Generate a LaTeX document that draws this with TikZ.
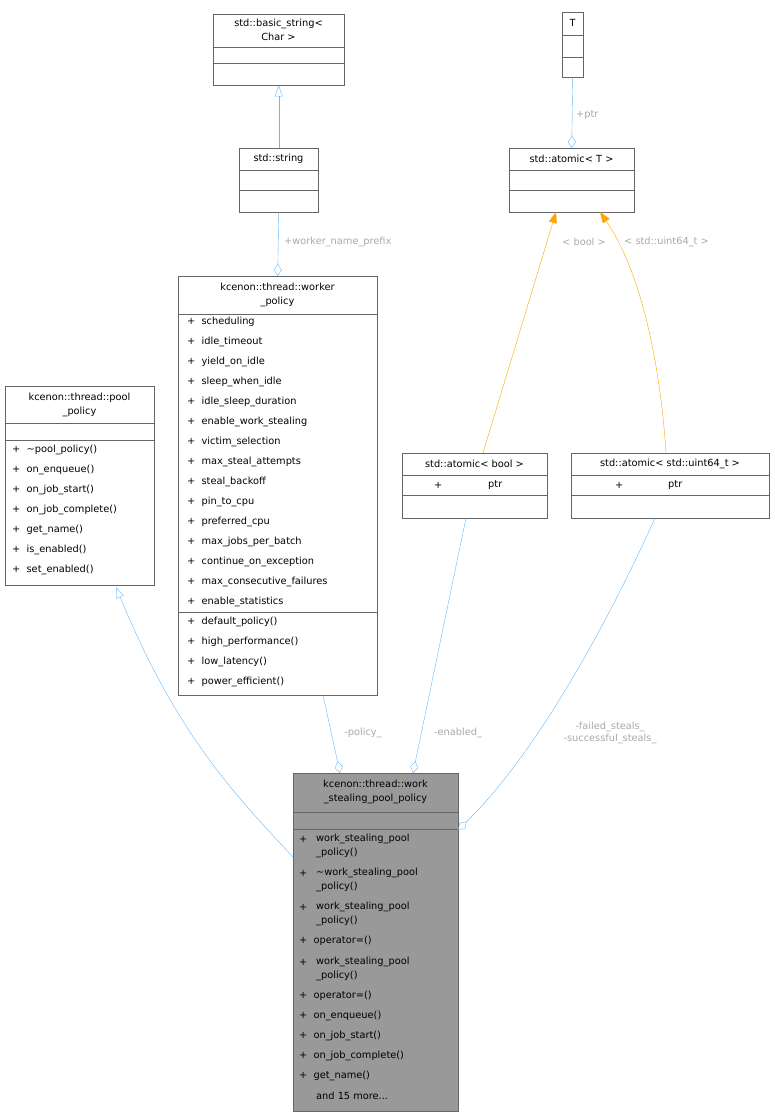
\documentclass[tikz,border=0pt]{standalone}
\usepackage{fontspec}
\setmainfont{DejaVu Sans}
\usetikzlibrary{arrows.meta,positioning}
\definecolor{edgeblue}{HTML}{63B8FF}
\definecolor{edgeorange}{HTML}{FFA500}
\definecolor{lblgray}{HTML}{A8A8A8}
\definecolor{boxline}{HTML}{666666}
\definecolor{wsfill}{HTML}{999999}
\tikzset{
  box/.style={draw=boxline, fill=white, anchor=north west, inner sep=0pt},
  sep/.style={draw=boxline},
  ttl/.style={align=center, inner sep=0pt, font=\fontsize{9.8}{14}\selectfont},
  mem/.style={anchor=west, inner sep=0pt, align=left, font=\fontsize{9.8}{14}\selectfont},
  lbl/.style={text=lblgray, inner sep=0pt, align=center, font=\fontsize{9.8}{11.5}\selectfont},
  inh/.style={draw=edgeblue, -{Triangle[open,length=11,width=8]}},
  agg/.style={draw=edgeblue, -{Diamond[open,length=12,width=8]}},
  tpl/.style={draw=edgeorange, -{Triangle[length=11,width=8]}},
}
\begin{document}
\begin{tikzpicture}[x=1pt,y=-1pt]
  \useasboundingbox (0,0) rectangle (775,1117);

  % classes
  \node[box, minimum width=131, minimum height=71] (bstr) at (213,14) {};
  \node[ttl] at (278.5,30) {std::basic\_string\textless\\Char \textgreater};
  \draw[sep] (213,47) -- (344,47) (213,63) -- (344,63);

  \node[box, minimum width=79, minimum height=64] (str) at (239,148) {};
  \node[ttl] at (278.5,159) {std::string};
  \draw[sep] (239,170) -- (318,170) (239,190) -- (318,190);

  \node[box, minimum width=21, minimum height=65] (T) at (562,12) {};
  \node[ttl] at (572.5,23) {T};
  \draw[sep] (562,35) -- (583,35) (562,57) -- (583,57);

  \node[box, minimum width=125, minimum height=64] (atomT) at (509,148) {};
  \node[ttl] at (571.5,159) {std::atomic\textless{} T \textgreater};
  \draw[sep] (509,170) -- (634,170) (509,190) -- (634,190);

  \node[box, minimum width=199, minimum height=419] (wp) at (178,276) {};
  \node[ttl] at (277.5,295) {kcenon::thread::worker\\\_policy};
  \draw[sep] (178,314) -- (377,314) (178,612) -- (377,612);
  \foreach \t [count=\i] in {scheduling, idle\_timeout, yield\_on\_idle,
      sleep\_when\_idle, idle\_sleep\_duration, enable\_work\_stealing,
      victim\_selection, max\_steal\_attempts, steal\_backoff, pin\_to\_cpu,
      preferred\_cpu, max\_jobs\_per\_batch, continue\_on\_exception,
      max\_consecutive\_failures, enable\_statistics}
    \node[mem] at (187,302+20*\i) {+\ \ \t};
  \foreach \t [count=\i] in {default\_policy(), high\_performance(),
      low\_latency(), power\_efficient()}
    \node[mem] at (187,602+20*\i) {+\ \ \t};

  \node[box, minimum width=149, minimum height=199] (pp) at (5,386) {};
  \node[ttl] at (79.5,405) {kcenon::thread::pool\\\_policy};
  \draw[sep] (5,423) -- (154,423) (5,440) -- (154,440);
  \foreach \t [count=\i] in {\textasciitilde pool\_policy(), on\_enqueue(),
      on\_job\_start(), on\_job\_complete(), get\_name(), is\_enabled(),
      set\_enabled()}
    \node[mem] at (12,430+20*\i) {+\ \ \t};

  \node[box, minimum width=145, minimum height=65] (ab) at (402,453) {};
  \node[ttl] at (474.5,464) {std::atomic\textless{} bool \textgreater};
  \draw[sep] (402,475) -- (547,475) (402,495) -- (547,495);
  \node[mem] at (434,485) {+};
  \node[mem] at (488,485) {ptr};

  \node[box, minimum width=198, minimum height=65] (au) at (571,453) {};
  \node[ttl] at (670,464) {std::atomic\textless{} std::uint64\_t \textgreater};
  \draw[sep] (571,475) -- (769,475) (571,495) -- (769,495);
  \node[mem] at (615,485) {+};
  \node[mem] at (668,485) {ptr};

  \node[box, fill=wsfill, minimum width=165, minimum height=338] (ws) at (293,773) {};
  \node[ttl] at (375.5,792) {kcenon::thread::work\\\_stealing\_pool\_policy};
  \draw[sep] (293,812) -- (458,812) (293,829) -- (458,829);
  \node[mem] at (299,839) {+};
  \node[mem] at (316,846) {work\_stealing\_pool\\\_policy()};
  \node[mem] at (299,873) {+};
  \node[mem] at (316,880) {\textasciitilde work\_stealing\_pool\\\_policy()};
  \node[mem] at (299,907) {+};
  \node[mem] at (316,914) {work\_stealing\_pool\\\_policy()};
  \node[mem] at (299,941) {+\ \ operator=()};
  \node[mem] at (299,962) {+};
  \node[mem] at (316,969) {work\_stealing\_pool\\\_policy()};
  \foreach \t [count=\i] in {operator=(), on\_enqueue(), on\_job\_start(),
      on\_job\_complete(), get\_name()}
    \node[mem] at (299,976+20*\i) {+\ \ \t};
  \node[mem] at (316,1096) {and 15 more...};

  % connector ends
  \coordinate (ppin) at (293,857);
  \coordinate (wpout) at (323,695);
  \coordinate (wpin) at (340,773);
  \coordinate (about) at (466,518);
  \coordinate (abin) at (413,773);
  \coordinate (auout) at (655,518);
  \coordinate (auin) at (458,830);
  \coordinate (abtop) at (483,453);
  \coordinate (autop) at (666,453);
  \coordinate (aTl) at (556,212);
  \coordinate (aTr) at (600,212);

  % connectors
  \draw[inh] (str.north) -- (bstr.south);
  \draw[agg] (str.south) -- (wp.north);
  \node[lbl, anchor=west] at (284,242) {+worker\_name\_prefix};
  \draw[agg] (T.south) -- (atomT.north);
  \node[lbl, anchor=west] at (576,115) {+ptr};
  \draw[tpl] (abtop) -- (aTl);
  \node[lbl] at (584,242) {\textless{} bool \textgreater};
  \draw[tpl] (autop) .. controls (660,360) and (640,270) .. (aTr);
  \node[lbl, anchor=west] at (624,242) {\textless{} std::uint64\_t \textgreater};
  \draw[inh] (ppin) .. controls (230,790) and (175,730) .. (116,587);
  \draw[agg] (wpout) -- (wpin);
  \node[lbl] at (363,733) {-policy\_};
  \draw[agg] (about) -- (abin);
  \node[lbl] at (458,733) {-enabled\_};
  \draw[agg] (auout) .. controls (600,640) and (530,760) .. (auin);
  \node[lbl] at (610,733) {-failed\_steals\_\\-successful\_steals\_};
\end{tikzpicture}
\end{document}
